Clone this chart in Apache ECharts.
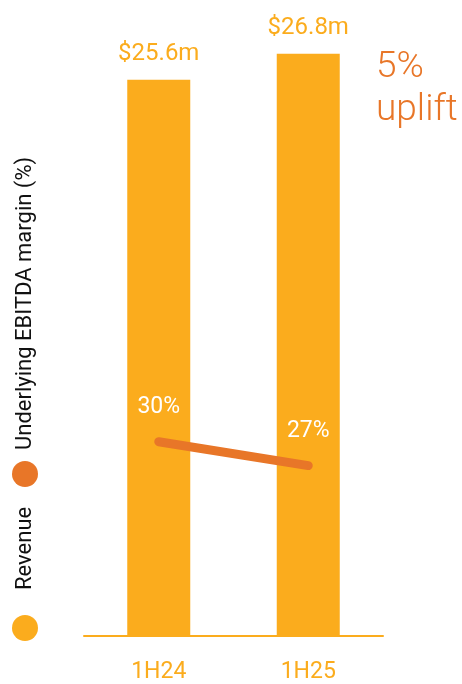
<!DOCTYPE html>
<html>
<head>
<meta charset="utf-8">
<script src="https://cdn.jsdelivr.net/npm/echarts@6/dist/echarts.min.js"></script>
<style>
html,body{margin:0;padding:0;background:#fff;}
#chart{width:462px;height:684px;}
</style>
</head>
<body>
<div id="chart"></div>
<script>
const categories = ['1H24', '1H25'];
const revenue = [25.6, 26.8];
const revenueLabels = ['$25.6m', '$26.8m'];
const ebitdaMargin = [30, 27];
const legendNames = ['Revenue', 'Underlying EBITDA margin (%)'];
const upliftText = ['5%', 'uplift'];

const YELLOW = '#FBAC1D';
const ORANGE = '#E87628';
const FONT = 'Roboto';

const chart = echarts.init(document.getElementById('chart'), null, {renderer: 'canvas'});
chart.setOption({
  animation: false,
  backgroundColor: '#fff',
  grid: {left: 84, right: 79, top: 27.6, bottom: 45, containLabel: false},
  xAxis: {
    type: 'category',
    data: categories,
    axisLine: {show: true, lineStyle: {color: YELLOW, width: 2}},
    axisTick: {show: false},
    axisLabel: {color: YELLOW, fontSize: 23, fontFamily: FONT, margin: 25}
  },
  yAxis: [
    {type: 'value', min: 0, max: 28, show: false, splitLine: {show: false}},
    {type: 'value', min: 5.6, max: 82, show: false, splitLine: {show: false}}
  ],
  series: [
    {
      name: legendNames[0],
      type: 'bar',
      data: revenue,
      barWidth: 63,
      itemStyle: {color: YELLOW},
      label: {
        show: true, position: 'top', distance: 14,
        color: YELLOW, fontSize: 24, fontFamily: FONT,
        formatter: p => revenueLabels[p.dataIndex]
      }
    },
    {
      name: legendNames[1],
      type: 'line',
      yAxisIndex: 1,
      data: ebitdaMargin,
      symbol: 'circle',
      symbolSize: 1,
      lineStyle: {color: ORANGE, width: 9, cap: 'round'},
      itemStyle: {color: ORANGE},
      label: {
        show: true, position: 'top', distance: 22,
        color: '#fff', fontSize: 23, fontFamily: FONT,
        formatter: p => p.value + '%'
      }
    }
  ],
  graphic: [
    {
      type: 'group',
      x: 25, y: 640,
      rotation: Math.PI / 2,
      children: [
        {type: 'circle', shape: {cx: 12, cy: 0, r: 13}, style: {fill: YELLOW}},
        {type: 'text', x: 50, y: 0, style: {text: legendNames[0], fill: '#111', fontSize: 22, fontFamily: FONT, verticalAlign: 'middle', align: 'left'}},
        {type: 'circle', shape: {cx: 166, cy: 0, r: 13}, style: {fill: ORANGE}},
        {type: 'text', x: 190, y: 0, style: {text: legendNames[1], fill: '#111', fontSize: 22, fontFamily: FONT, verticalAlign: 'middle', align: 'left'}}
      ]
    },
    {
      type: 'text', left: 376, top: 46,
      style: {text: upliftText.join('\n'), fill: ORANGE, fontSize: 37, fontFamily: FONT, fontWeight: 300, lineHeight: 43}
    }
  ]
});
</script>
</body>
</html>
